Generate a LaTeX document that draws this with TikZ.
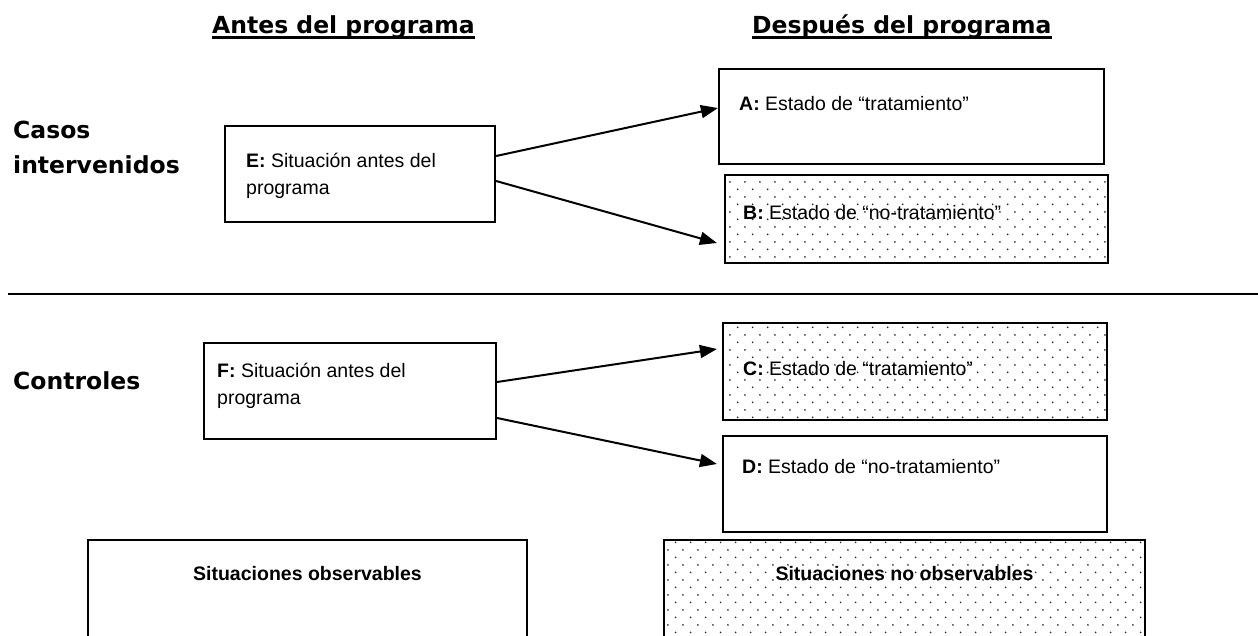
\documentclass[tikz,border=0pt]{standalone}
\usepackage{fontspec}
\setmainfont{Liberation Sans}
\newfontfamily\hdrfont{DejaVu Sans}
\usetikzlibrary{arrows.meta,patterns}
\pgfdeclarepatternformonly{sparsedots}{\pgfpointorigin}{\pgfpoint{15.3pt}{15.3pt}}{\pgfpoint{15.3pt}{15.3pt}}{%
  \pgfpathcircle{\pgfpoint{3.8pt}{3.8pt}}{1pt}%
  \pgfpathcircle{\pgfpoint{11.45pt}{11.45pt}}{1pt}%
  \pgfusepath{fill}}
\begin{document}
\begin{tikzpicture}[x=1pt,y=-1pt,
  box/.style={draw=black,line width=2.2pt,rectangle,inner sep=0pt},
  dotbox/.style={box,pattern=sparsedots,pattern color=black!85},
  txt/.style={anchor=base west,inner sep=0pt,font=\fontsize{19.5}{27}\selectfont},
  ctxt/.style={anchor=base,inner sep=0pt,font=\fontsize{19.5}{27}\selectfont\bfseries},
  hdr/.style={anchor=base west,inner sep=0pt,font=\hdrfont\bfseries\fontsize{23.5}{35}\selectfont},
  conn/.style={line width=2pt,-{Triangle[length=17pt,width=13pt]}},
  sep/.style={line width=2pt}
]
\useasboundingbox (0,0) rectangle (1258,635);
\clip (0,0) rectangle (1258,635);

% headers
\node[hdr] (h1) at (212,33) {Antes del programa};
\node[hdr] (h2) at (752,33) {Después del programa};
\draw[line width=3pt] ([yshift=-4pt]h1.base west) -- ([yshift=-4pt]h1.base east);
\draw[line width=3pt] ([yshift=-4pt]h2.base west) -- ([yshift=-4pt]h2.base east);

% row labels
\node[hdr] (r1a) at (13,138) {Casos};
\node[hdr] (r1b) at (13,173) {intervenidos};
\node[hdr] (r2) at (13,389) {Controles};

% separator
\draw[sep] (8,294) -- (1258,294);

% boxes
\node[box,minimum width=270pt,minimum height=96pt] (E) at (360,174) {};
\node[box,minimum width=292pt,minimum height=96pt] (F) at (350,391) {};
\node[box,minimum width=385pt,minimum height=95pt] (A) at (911.5,116.5) {};
\node[dotbox,minimum width=383pt,minimum height=88pt] (B) at (916.5,219) {};
\node[dotbox,minimum width=384pt,minimum height=97pt] (C) at (915,371.5) {};
\node[box,minimum width=384pt,minimum height=96pt] (D) at (915,484) {};
\node[box,minimum width=439pt,minimum height=120pt] (OBS) at (307.5,600) {};
\node[dotbox,minimum width=481pt,minimum height=120pt] (NOBS) at (904.5,600) {};

% texts
\node[txt] (tE1) at (246,167) {\textbf{E:} Situación antes del};
\node[txt] (tE2) at (246,194) {programa};
\node[txt] (tF1) at (217,377) {\textbf{F:} Situación antes del};
\node[txt] (tF2) at (217,404) {programa};
\node[txt] (tA) at (739,110) {\textbf{A:} Estado de “tratamiento”};
\node[txt] (tB) at (743,219) {\textbf{B:} Estado de “no-tratamiento”};
\node[txt] (tC) at (743,375) {\textbf{C:} Estado de “tratamiento”};
\node[txt] (tD) at (742,473) {\textbf{D:} Estado de “no-tratamiento”};
\node[ctxt] (tO) at (307.5,580) {Situaciones observables};
\node[ctxt] (tN) at (904.5,580) {Situaciones no observables};

% connectors
\draw[conn] ([yshift=18pt]E.east) -- ([yshift=8.5pt]A.west);
\draw[conn] ([yshift=-7pt]E.east) -- ([xshift=-7pt,yshift=-24pt]B.west);
\draw[conn] ([yshift=9pt]F.east) -- ([xshift=-5pt,yshift=22.5pt]C.west);
\draw[conn] ([yshift=-27pt]F.east) -- ([xshift=-5pt,yshift=20pt]D.west);
\end{tikzpicture}
\end{document}
